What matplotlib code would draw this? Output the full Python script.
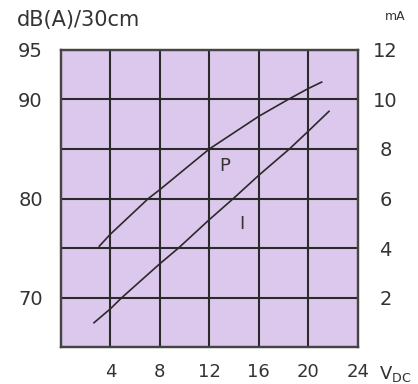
import matplotlib
matplotlib.use("Agg")
import matplotlib.pyplot as plt

# P curve: sound pressure in dB(A)/30cm (left axis)
p_volt = [3.11, 4.0, 7.07, 8.0, 12.0, 16.0, 18.38, 20.0, 21.08]
p_db = [75.2, 76.4, 80.0, 80.9, 85.0, 88.3, 90.0, 91.1, 91.75]

# I curve: current in mA (right axis)
i_volt = [2.68, 4.0, 4.92, 8.0, 9.5, 12.0, 13.94, 16.0, 18.47, 20.0, 21.67]
i_ma = [0.99, 1.55, 2.0, 3.37, 4.0, 5.15, 6.0, 6.94, 8.0, 8.72, 9.52]

x_ticks = [4, 8, 12, 16, 20, 24]
x_labels = ["4", "8", "12", "16", "20", "24"]
db_ticks = [70, 80, 90, 95]
ma_ticks = [2, 4, 6, 8, 10, 12]

bg = "#dcc8ec"
line_c = "#2a2a2a"
txt_c = "#333333"

fig = plt.figure(figsize=(4.18, 3.84), dpi=100)
ax = fig.add_axes([0.1455, 0.0956, 0.7105, 0.7746])
ax.set_facecolor(bg)
ax2 = ax.twinx()

ax.set_xlim(0, 24)
ax.set_ylim(65, 95)
ax2.set_ylim(0, 12)

# grid lines
for v in x_ticks[:-1]:
    ax.axvline(v, color=line_c, lw=1.5, zorder=1)
for m in ma_ticks[:-1]:
    ax2.axhline(m, color=line_c, lw=1.5, zorder=1)

ax.plot(p_volt, p_db, color=line_c, lw=1.2, zorder=3)
ax2.plot(i_volt, i_ma, color=line_c, lw=1.2, zorder=3)

ax.text(13.27, 83.25, "P", fontsize=13, color=txt_c, ha="center", va="center")
ax2.text(14.6, 4.99, "I", fontsize=13, color=txt_c, ha="center", va="center")

for a in (ax, ax2):
    for s in a.spines.values():
        s.set_color("#444444")
        s.set_linewidth(1.6)

ax.set_xticks(x_ticks)
ax.set_xticklabels(x_labels)
ax.set_yticks(db_ticks)
ax2.set_yticks(ma_ticks)
ax.tick_params(axis="x", length=0, pad=11, labelsize=13, labelcolor=txt_c)
ax.tick_params(axis="y", length=0, pad=13, labelsize=14, labelcolor=txt_c)
ax2.tick_params(axis="y", length=0, pad=20, labelsize=14, labelcolor=txt_c)
for lbl in ax2.get_yticklabels():
    lbl.set_horizontalalignment("center")

fig.text(17 / 418, 1 - 20 / 384, "dB(A)/30cm", fontsize=15, color=txt_c,
         ha="left", va="center")
fig.text(395 / 418, 1 - 16 / 384, "mA", fontsize=9, color=txt_c,
         ha="center", va="center")
fig.text(379 / 418, 1 - 374 / 384, r"V$_{\mathregular{DC}}$", fontsize=13,
         color=txt_c, ha="left", va="center")

fig.savefig("out.png", dpi=100)
